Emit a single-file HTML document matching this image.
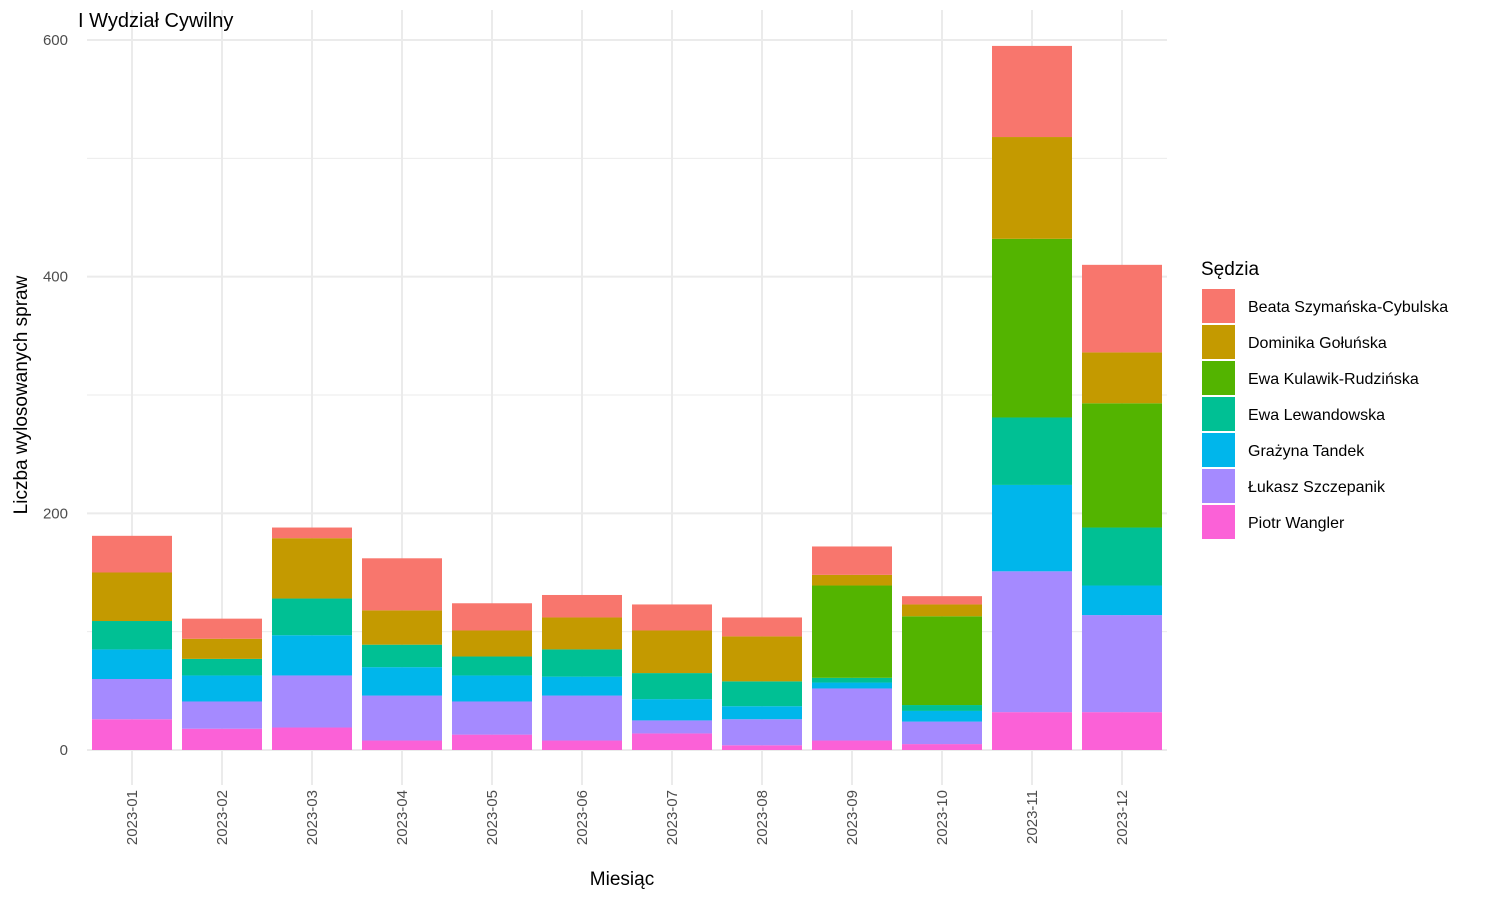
<!DOCTYPE html>
<html><head><meta charset="utf-8"><style>body{margin:0;background:#fff}svg{font-family:"Liberation Sans",sans-serif}</style></head>
<body>
<svg id="c" width="1500" height="900"></svg>
<script>
const months=["2023-01","2023-02","2023-03","2023-04","2023-05","2023-06","2023-07","2023-08","2023-09","2023-10","2023-11","2023-12"];
const judges=["Piotr Wangler","Łukasz Szczepanik","Grażyna Tandek","Ewa Lewandowska","Ewa Kulawik-Rudzińska","Dominika Gołuńska","Beata Szymańska-Cybulska"];
const colors=["#FB61D7","#A58AFF","#00B6EB","#00C094","#53B400","#C49A00","#F8766D"];
const piotr=[26,18,19,8,13,8,14,4,8,5,32,32];
const lukasz=[34,23,44,38,28,38,11,22,44,19,119,82];
const grazyna=[25,22,34,24,22,16,18,11,5,9,73,25];
const ewaL=[24,14,31,19,16,23,22,21,4,5,57,49];
const ewaK=[0,0,0,0,0,0,0,0,78,75,151,105];
const dominika=[41,17,51,29,22,27,36,38,9,10,86,43];
const beata=[31,17,9,44,23,19,22,16,24,7,77,74];
const yTicks=[0,200,400,600];
const series=[piotr,lukasz,grazyna,ewaL,ewaK,dominika,beata];
const svg=document.getElementById('c');const NS="http://www.w3.org/2000/svg";
function el(t,a,txt){const e=document.createElementNS(NS,t);for(const k in a)e.setAttribute(k,a[k]);if(txt!==undefined)e.textContent=txt;svg.appendChild(e);return e;}
const x0=87,x1=1167,y=v=>750-v*710/600;const step=(x1-x0)/months.length;const bx=i=>x0+step*(i+0.5);
[100,300,500].forEach(v=>{const g=el('line',{x1:x0,x2:x1,y1:y(v),y2:y(v),stroke:'#ebebeb','stroke-width':1});});
yTicks.forEach(v=>{const g=el('line',{x1:x0,x2:x1,y1:y(v),y2:y(v),stroke:'#ebebeb','stroke-width':2});
const t=el('text',{x:68,y:y(v)+5,'text-anchor':'end','font-size':15,fill:'#4d4d4d'},v);});
months.forEach((m,i)=>{const g=el('line',{x1:bx(i),x2:bx(i),y1:10,y2:785,stroke:'#ebebeb','stroke-width':2});
const t=el('text',{transform:`translate(${bx(i)+5},790) rotate(-90)`,'text-anchor':'end','font-size':15,fill:'#4d4d4d'},m);});
months.forEach((m,i)=>{let cum=0;series.forEach((s,j)=>{const v=s[i];if(v>0){const r=el('rect',{x:bx(i)-40,width:80,y:y(cum+v),height:y(cum)-y(cum+v),fill:colors[j]});}cum+=v;});});
let t=el('text',{x:78,y:27,'font-size':20,fill:'#000'},'I Wydział Cywilny');
t=el('text',{transform:'translate(27,395) rotate(-90)','text-anchor':'middle','font-size':19,fill:'#000'},'Liczba wylosowanych spraw');
t=el('text',{x:622,y:885,'text-anchor':'middle','font-size':19,fill:'#000'},'Miesiąc');
t=el('text',{x:1201,y:275,'font-size':19,fill:'#000'},'Sędzia');
for(let k=0;k<judges.length;k++){const j=judges.length-1-k;const yy=289+k*36;
const r=el('rect',{x:1202,y:yy,width:33,height:34,fill:colors[j]});
const l=el('text',{x:1248,y:yy+23,'font-size':16,fill:'#000'},judges[j]);}
</script>
</body></html>
